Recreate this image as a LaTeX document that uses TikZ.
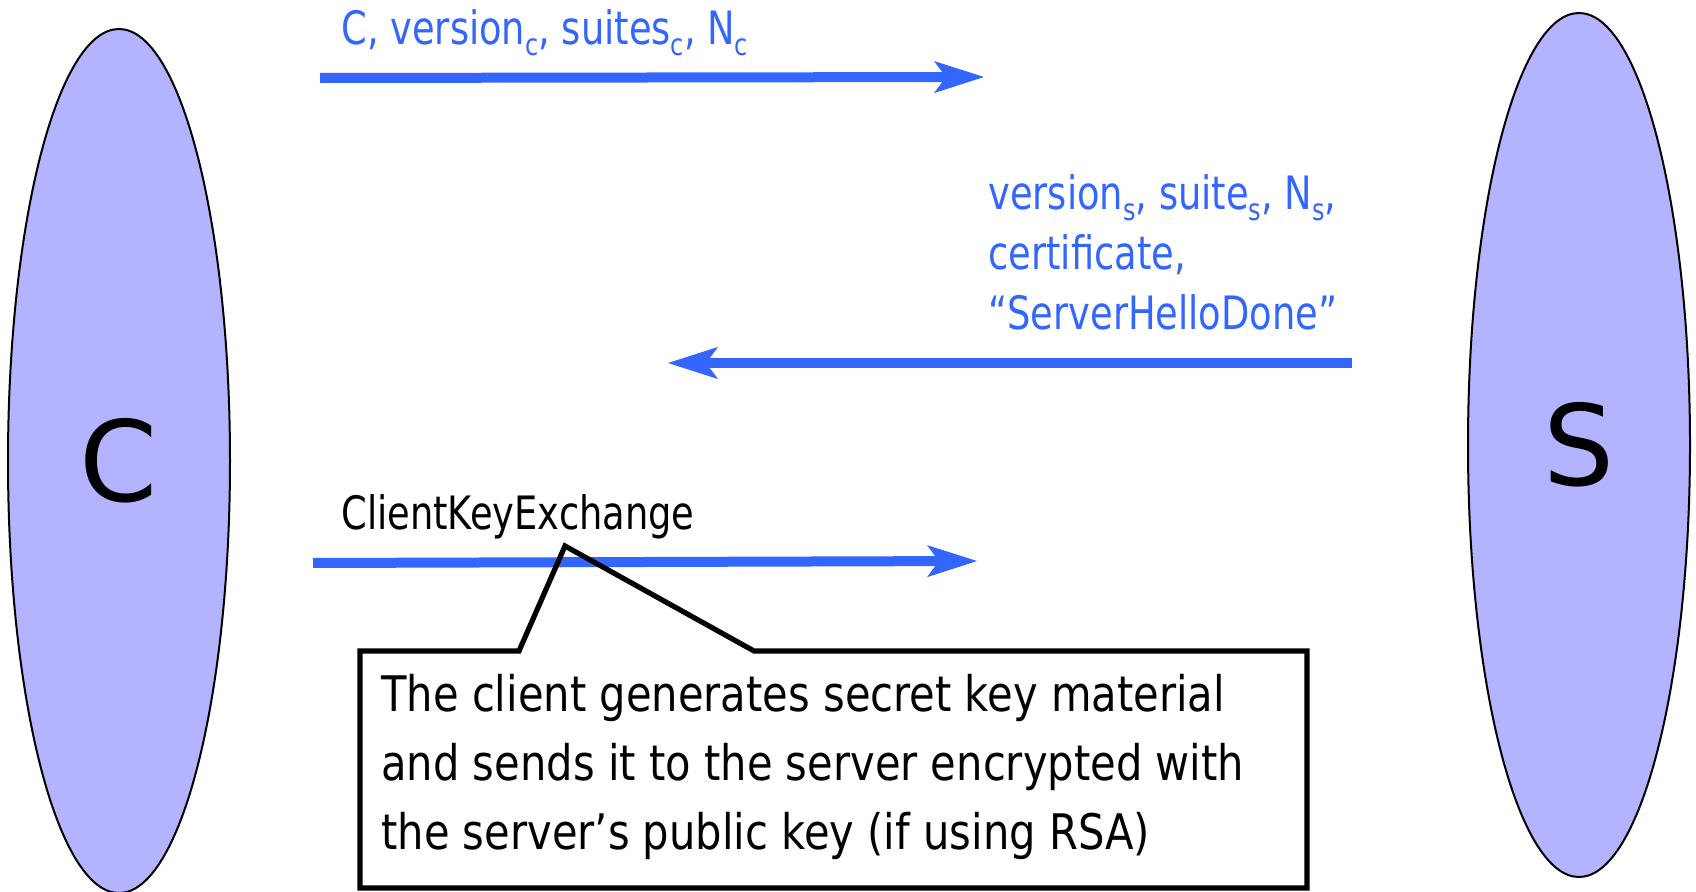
\documentclass[tikz,border=0pt]{standalone}
\usepackage{fontspec}
\setmainfont{DejaVu Sans}[FakeStretch=0.85]
\newfontfamily\bigfont{DejaVu Sans}
\newfontfamily\labelfont{DejaVu Sans}[FakeStretch=0.8]
\newcommand\lsub[1]{\raisebox{-0.22em}{\fontsize{15}{15}\selectfont #1}}
\usetikzlibrary{arrows.meta,shapes.geometric}
\definecolor{msgblue}{RGB}{51,102,255}
\definecolor{partyfill}{RGB}{179,179,255}
\tikzset{
  party/.style={ellipse, draw=black, line width=1pt, fill=partyfill, inner sep=0pt,
    minimum width=111pt, minimum height=432pt, font=\bigfont\fontsize{56}{60}\selectfont},
  msg/.style={draw=msgblue, line width=5pt,
    -{Stealth[length=25pt,width=16pt,inset=6pt,line width=0.5pt]}},
  msglabel/.style={anchor=base west, inner sep=0pt, align=left, text=msgblue,
    font=\labelfont\fontsize{23}{30}\selectfont},
  plainlabel/.style={anchor=base west, inner sep=0pt, align=left, text=black,
    font=\labelfont\fontsize{23}{30}\selectfont},
  notetext/.style={anchor=base west, inner sep=0pt, align=left, text=black,
    font=\fontsize{24.5}{34.5}\selectfont},
  callout/.style={draw=black, line width=2.6pt, line join=miter}
}
\begin{document}
\begin{tikzpicture}[x=0.5pt,y=-0.5pt]
  \useasboundingbox (0,0) rectangle (1696,892);
  % parties
  \node[party] (C) at (119,461) {C};
  \node[party] (S) at (1579,445) {S};
  % message 1
  \coordinate (m1a) at (320,78);
  \coordinate (m1b) at (984,77);
  \draw[msg] (m1a) -- (m1b);
  \node[msglabel] (l1) at (341,45) {C, version\lsub{c}, suites\lsub{c}, N\lsub{c}};
  % message 2
  \coordinate (m2a) at (1352,363);
  \coordinate (m2b) at (668,363);
  \draw[msg] (m2a) -- (m2b);
  \node[msglabel] (l2) at (988,330) {version\lsub{s}, suite\lsub{s}, N\lsub{s},\\ certificate,\\ “ServerHelloDone”};
  % message 3
  \coordinate (m3a) at (313,563);
  \coordinate (m3b) at (977,561);
  \draw[msg] (m3a) -- (m3b);
  \node[plainlabel] (l3) at (341,530) {ClientKeyExchange};
  % callout
  \coordinate (bnw) at (360,651);
  \coordinate (bne) at (1307,651);
  \coordinate (bse) at (1307,888);
  \coordinate (bsw) at (360,888);
  \coordinate (pl) at (519,651);
  \coordinate (tip) at (565,546);
  \coordinate (pr) at (754,651);
  \draw[callout] (bnw) -- (pl) -- (tip) -- (pr) -- (bne) -- (bse) -- (bsw) -- cycle;
  \node[notetext] (note) at (381,849) {The client generates secret key material\\ and sends it to the server encrypted with\\ the server’s public key (if using RSA)};
\end{tikzpicture}
\end{document}
